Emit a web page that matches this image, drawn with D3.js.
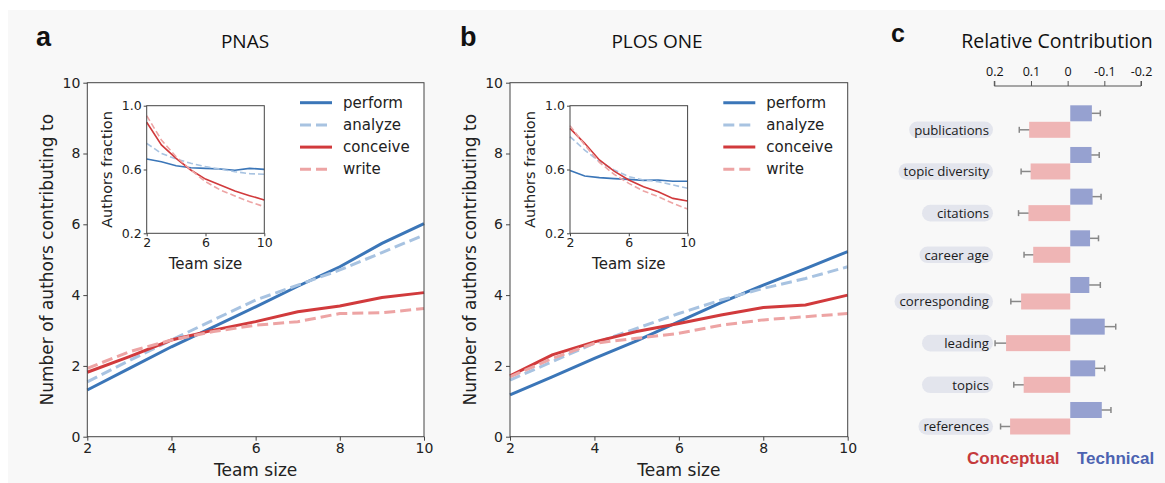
<!DOCTYPE html>
<html><head><meta charset="utf-8">
<script src="https://cdn.jsdelivr.net/npm/d3@7"></script>
<style>body{margin:0;background:#fff;} svg{display:block}</style>
</head><body><svg id="chart" width="1165" height="483"></svg>
<script>
// ---------- data ----------
const teamSizes = [2, 3, 4, 5, 6, 7, 8, 9, 10];
const seriesNames = ["perform", "analyze", "conceive", "write"];
const mainTicksY = [0, 2, 4, 6, 8, 10];
const mainTicksX = [2, 4, 6, 8, 10];
const insetTicksY = [0.2, 0.6, 1.0];
const insetTicksX = [2, 6, 10];

// PNAS: number of authors contributing
const pnasPerform  = [1.32, 1.93, 2.54, 3.10, 3.67, 4.25, 4.80, 5.46, 6.02];
const pnasAnalyze  = [1.55, 2.15, 2.73, 3.30, 3.86, 4.28, 4.71, 5.20, 5.70];
const pnasConceive = [1.82, 2.26, 2.73, 3.01, 3.25, 3.53, 3.69, 3.93, 4.07];
const pnasWrite    = [1.93, 2.40, 2.73, 2.97, 3.15, 3.25, 3.48, 3.50, 3.62];
// PNAS: authors fraction (inset)
const pnasFracPerform  = [0.666, 0.649, 0.624, 0.611, 0.607, 0.603, 0.595, 0.607, 0.601];
const pnasFracAnalyze  = [0.764, 0.701, 0.666, 0.639, 0.618, 0.603, 0.586, 0.574, 0.570];
const pnasFracConceive = [0.896, 0.754, 0.670, 0.597, 0.540, 0.503, 0.465, 0.436, 0.409];
const pnasFracWrite    = [0.937, 0.785, 0.680, 0.597, 0.524, 0.472, 0.434, 0.398, 0.367];

// PLOS ONE: number of authors contributing
const plosPerform  = [1.18, 1.69, 2.21, 2.71, 3.25, 3.79, 4.28, 4.75, 5.23];
const plosAnalyze  = [1.60, 2.12, 2.64, 3.06, 3.48, 3.86, 4.19, 4.47, 4.80];
const plosConceive = [1.72, 2.31, 2.68, 2.97, 3.20, 3.44, 3.65, 3.72, 4.00];
const plosWrite    = [1.69, 2.21, 2.64, 2.78, 2.92, 3.15, 3.30, 3.39, 3.48];
// PLOS ONE: authors fraction (inset)
const plosFracPerform  = [0.593, 0.559, 0.549, 0.543, 0.538, 0.532, 0.534, 0.526, 0.526];
const plosFracAnalyze  = [0.806, 0.722, 0.649, 0.597, 0.555, 0.534, 0.524, 0.503, 0.482];
const plosFracConceive = [0.858, 0.764, 0.660, 0.590, 0.534, 0.492, 0.461, 0.419, 0.403];
const plosFracWrite    = [0.875, 0.754, 0.645, 0.570, 0.513, 0.465, 0.430, 0.388, 0.352];

// Panel c: relative contribution
const features = ["publications", "topic diversity", "citations", "career age",
                  "corresponding", "leading", "topics", "references"];
const featureGroup = [0, 0, 0, 0, 1, 1, 1, 1];
const technical     = [0.059, 0.058, 0.061, 0.054, 0.052, 0.094, 0.068, 0.086];
const technicalErr  = [0.023, 0.021, 0.023, 0.023, 0.030, 0.030, 0.026, 0.025];
const conceptual    = [0.112, 0.108, 0.114, 0.101, 0.134, 0.175, 0.127, 0.164];
const conceptualErr = [0.027, 0.026, 0.027, 0.025, 0.028, 0.030, 0.027, 0.026];
const contribTicks = [0.2, 0.1, 0, -0.1, -0.2];
const contribTickLabels = ["0.2", "0.1", "0", "-0.1", "-0.2"];

// ---------- styles ----------
const styles = {
  perform:  {color: "#3b76b8", dash: null},
  analyze:  {color: "#a8c3e1", dash: true},
  conceive: {color: "#d13a3c", dash: null},
  write:    {color: "#eda4a4", dash: true}
};
const FONT = "'DejaVu Sans', sans-serif";
const AXIS_COLOR = "#444";
const TEXT_COLOR = "#222";

const svg = d3.select("#chart");
svg.append("rect").attr("x", 8).attr("y", 10).attr("width", 1157).attr("height", 473).attr("fill", "#f8f8f8");

function styleAxis(g, fontSize) {
  g.selectAll(".domain").remove();
  g.selectAll(".tick line").attr("stroke", AXIS_COLOR).attr("stroke-width", 1);
  g.selectAll(".tick text").attr("fill", TEXT_COLOR).style("font-family", FONT).style("font-size", fontSize + "px");
}

function drawPanel(cfg) {
  const x = d3.scaleLinear().domain([2, 10]).range([cfg.x0, cfg.x1]);
  const y = d3.scaleLinear().domain([0, 10]).range([cfg.y1, cfg.y0]);
  const g = svg.append("g");
  g.append("rect").attr("x", cfg.x0).attr("y", cfg.y0).attr("width", cfg.x1 - cfg.x0).attr("height", cfg.y1 - cfg.y0).attr("fill", "#fff");

  const line = d3.line().x((d, i) => x(teamSizes[i])).y(d => y(d));
  seriesNames.forEach((name, k) => {
    const st = styles[name];
    g.append("path").datum(cfg.main[k]).attr("d", line)
      .attr("fill", "none").attr("stroke", st.color).attr("stroke-width", 3)
      .attr("stroke-dasharray", st.dash ? "11,5" : null);
  });
  g.append("rect").attr("x", cfg.x0).attr("y", cfg.y0).attr("width", cfg.x1 - cfg.x0).attr("height", cfg.y1 - cfg.y0)
    .attr("fill", "none").attr("stroke", AXIS_COLOR).attr("stroke-width", 1);

  const ax = g.append("g").attr("transform", `translate(0,${cfg.y1})`)
    .call(d3.axisBottom(x).tickValues(mainTicksX).tickSize(4).tickPadding(2).tickFormat(d3.format("d")));
  styleAxis(ax, 14);
  const ay = g.append("g").attr("transform", `translate(${cfg.x0},0)`)
    .call(d3.axisLeft(y).tickValues(mainTicksY).tickSize(4).tickPadding(3).tickFormat(d3.format("d")));
  styleAxis(ay, 14);

  g.append("text").attr("x", (cfg.x0 + cfg.x1) / 2).attr("y", 476).attr("text-anchor", "middle")
    .style("font-family", FONT).style("font-size", "17px").attr("fill", TEXT_COLOR).text("Team size");
  g.append("text").attr("transform", `translate(${cfg.x0 - 34},${(cfg.y0 + cfg.y1) / 2}) rotate(-90)`)
    .attr("text-anchor", "middle").style("font-family", FONT).style("font-size", "17px").attr("fill", TEXT_COLOR)
    .text("Number of authors contributing to");

  // title & letter
  g.append("text").attr("x", cfg.titleX).attr("y", 48).attr("text-anchor", "middle")
    .style("font-family", "'Open Sans', sans-serif").style("font-size", "19px").attr("fill", "#111").text(cfg.title);
  g.append("text").attr("x", cfg.letterX).attr("y", 46)
    .style("font-family", "'Liberation Sans', Arial, sans-serif").style("font-weight", "bold").style("font-size", "27px").attr("fill", "#111").text(cfg.letter);

  // legend
  seriesNames.forEach((name, k) => {
    const st = styles[name];
    const ly = 102.7 + k * 22.2;
    g.append("line").attr("x1", cfg.legX).attr("x2", cfg.legX + 32).attr("y1", ly).attr("y2", ly)
      .attr("stroke", st.color).attr("stroke-width", 3).attr("stroke-dasharray", st.dash ? "11,5" : null);
    g.append("text").attr("x", cfg.legX + 43).attr("y", ly + 5).style("font-family", FONT).style("font-size", "15px")
      .attr("fill", TEXT_COLOR).text(name);
  });

  // inset
  const ix = d3.scaleLinear().domain([2, 10]).range([cfg.ix0, cfg.ix0 + 117.6]);
  const iy = d3.scaleLinear().domain([0.2, 1.0]).range([233.3, 105.7]);
  g.append("rect").attr("x", ix.range()[0]).attr("y", 105.7).attr("width", 117.6).attr("height", 127.6).attr("fill", "#fff");
  const iline = d3.line().x((d, i) => ix(teamSizes[i])).y(d => iy(d));
  seriesNames.forEach((name, k) => {
    const st = styles[name];
    g.append("path").datum(cfg.inset[k]).attr("d", iline)
      .attr("fill", "none").attr("stroke", st.color).attr("stroke-width", 1.6)
      .attr("stroke-dasharray", st.dash ? "6,3" : null);
  });
  g.append("rect").attr("x", ix.range()[0]).attr("y", 105.7).attr("width", 117.6).attr("height", 127.6)
    .attr("fill", "none").attr("stroke", AXIS_COLOR).attr("stroke-width", 1);
  const iax = g.append("g").attr("transform", `translate(0,233.3)`)
    .call(d3.axisBottom(ix).tickValues(insetTicksX).tickSize(3).tickPadding(2).tickFormat(d3.format("d")));
  styleAxis(iax, 12.5);
  const iay = g.append("g").attr("transform", `translate(${ix.range()[0]},0)`)
    .call(d3.axisLeft(iy).tickValues(insetTicksY).tickSize(3).tickPadding(2).tickFormat(d3.format(".1f")));
  styleAxis(iay, 12.5);
  g.append("text").attr("x", ix.range()[0] + 58.8).attr("y", 269).attr("text-anchor", "middle")
    .style("font-family", FONT).style("font-size", "15px").attr("fill", TEXT_COLOR).text("Team size");
  g.append("text").attr("transform", `translate(${ix.range()[0] - 35},${(105.7 + 233.3) / 2}) rotate(-90)`)
    .attr("text-anchor", "middle").style("font-family", FONT).style("font-size", "14.5px").attr("fill", TEXT_COLOR)
    .text("Authors fraction");
}

drawPanel({x0: 87.3, x1: 424, y0: 82.7, y1: 436.7, title: "PNAS", titleX: 245, letter: "a", letterX: 36,
  legX: 300, ix0: 146.7,
  main: [pnasPerform, pnasAnalyze, pnasConceive, pnasWrite],
  inset: [pnasFracPerform, pnasFracAnalyze, pnasFracConceive, pnasFracWrite]});
drawPanel({x0: 510, x1: 847.7, y0: 82.7, y1: 436.7, title: "PLOS ONE", titleX: 657, letter: "b", letterX: 460,
  legX: 723.3, ix0: 570,
  main: [plosPerform, plosAnalyze, plosConceive, plosWrite],
  inset: [plosFracPerform, plosFracAnalyze, plosFracConceive, plosFracWrite]});

// ---------- panel c ----------
const gc = svg.append("g");
gc.append("text").attr("x", 891).attr("y", 42)
  .style("font-family", "'Liberation Sans', Arial, sans-serif").style("font-weight", "bold").style("font-size", "25px").attr("fill", "#111").text("c");
gc.append("text").attr("x", 1057).attr("y", 47.5).attr("text-anchor", "middle")
  .style("font-family", "'Open Sans', sans-serif").style("font-size", "19.5px").attr("fill", "#111").text("Relative Contribution");

const xc = d3.scaleLinear().domain([0.2, -0.2]).range([994.3, 1141]);
const axC = gc.append("g").attr("transform", "translate(0,86)")
  .call(d3.axisTop(xc).tickValues(contribTicks).tickSize(5).tickPadding(5)
    .tickFormat((d, i) => contribTickLabels[i]));
axC.select(".domain").attr("stroke", "#555").attr("d", `M${xc(0.2)},-5V0H${xc(-0.2)}V-5`);
axC.selectAll(".tick line").attr("stroke", "#555");
axC.selectAll(".tick text").attr("fill", "#111").style("font-family", "'Open Sans', sans-serif").style("font-size", "12.5px");

const barShift = 2.6;
const rowStep = 41.67, groupGap = 5, barH = 16;
const rowY = i => 121.3 + i * rowStep + featureGroup[i] * groupGap; // boundary between blue and red bars
const bx = v => xc(v) + barShift;

features.forEach((f, i) => {
  const yb = rowY(i);
  // technical (blue, upper, towards right)
  const tc = yb - barH / 2;
  gc.append("line").attr("x1", bx(-technical[i] + technicalErr[i])).attr("x2", bx(-technical[i] - technicalErr[i]))
    .attr("y1", tc).attr("y2", tc).attr("stroke", "#888").attr("stroke-width", 1.5);
  gc.append("line").attr("x1", bx(-technical[i] - technicalErr[i])).attr("x2", bx(-technical[i] - technicalErr[i]))
    .attr("y1", tc - 3).attr("y2", tc + 3).attr("stroke", "#888").attr("stroke-width", 1.5);
  gc.append("rect").attr("x", bx(0)).attr("y", yb - barH).attr("width", bx(-technical[i]) - bx(0)).attr("height", barH)
    .attr("fill", "#96a1d0");
  // conceptual (red, lower, towards left)
  const cc = yb + barH / 2 + 0.5;
  gc.append("line").attr("x1", bx(conceptual[i] - conceptualErr[i])).attr("x2", bx(conceptual[i] + conceptualErr[i]))
    .attr("y1", cc).attr("y2", cc).attr("stroke", "#888").attr("stroke-width", 1.5);
  gc.append("line").attr("x1", bx(conceptual[i] + conceptualErr[i])).attr("x2", bx(conceptual[i] + conceptualErr[i]))
    .attr("y1", cc - 3).attr("y2", cc + 3).attr("stroke", "#888").attr("stroke-width", 1.5);
  gc.append("rect").attr("x", bx(conceptual[i])).attr("y", yb + 0.5).attr("width", bx(0) - bx(conceptual[i])).attr("height", barH)
    .attr("fill", "#efb5b5");
  // label pill
  const pill = gc.append("rect").attr("fill", "#e3e5ed");
  const t = gc.append("text").attr("x", 989).attr("y", cc + 4.7).attr("text-anchor", "end")
    .style("font-family", "'Open Sans', sans-serif").style("font-size", "13.2px").attr("fill", "#1a1a1a").text(f);
  const w = t.node().getComputedTextLength();
  const left = Math.min(993 - 71, 989 - w - 5);
  pill.attr("x", left).attr("y", cc - 8.3).attr("width", 993 - left).attr("height", 16.6).attr("rx", 8.3);
});

gc.append("text").attr("x", 967).attr("y", 463.5)
  .style("font-family", "'Liberation Sans', Arial, sans-serif").style("font-weight", "bold").style("font-size", "17px")
  .attr("fill", "#c53a3c").text("Conceptual");
gc.append("text").attr("x", 1077).attr("y", 463.5)
  .style("font-family", "'Liberation Sans', Arial, sans-serif").style("font-weight", "bold").style("font-size", "17px")
  .attr("fill", "#4c63b1").text("Technical");
</script>
</body></html>
